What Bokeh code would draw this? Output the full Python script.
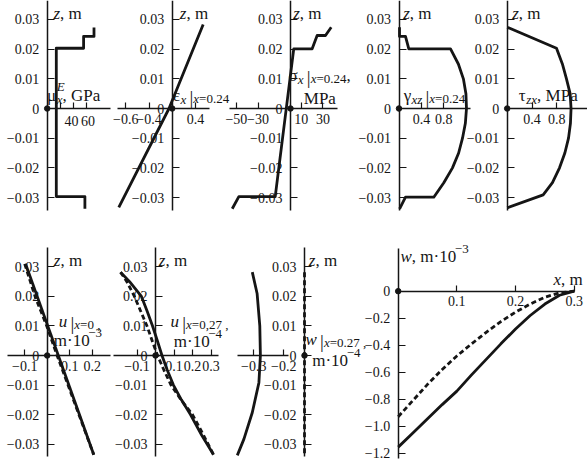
from bokeh.plotting import figure
from bokeh.models import Range1d, LinearAxis, FixedTicker, Label, CustomJSTickFormatter
from bokeh.embed import file_html
from bokeh.resources import INLINE

# ======================= DATA =======================
# through-thickness coordinate ticks (m)
z_ticks = [-0.03, -0.02, -0.01, 0.0, 0.01, 0.02, 0.03]
z_tick_labels = ["−0.03", "−0.02", "−0.01", "0", "0.01", "0.02", "0.03"]

# 1) mu_x^E, GPa
mu_z = [-0.0338, -0.0297, -0.0297, 0.0203, 0.0203, 0.0243, 0.0243, 0.0273]
mu_val = [58, 58, 14, 14, 56, 56, 72, 72]
mu_ticks = [20, 40, 60]
mu_tick_labels = ["", "40\u00a0", "\u00a060"]

# 2) eps_x at x=0.24
eps_z = [-0.0333, 0.0, 0.0283]
eps_val = [-0.921, -0.055, 0.534]
eps_ticks = [-0.8, -0.4, 0.4]
eps_tick_labels = ["−0.6", "−0.4", "0.4"]

# 3) sigma_x at x=0.24, MPa
sig_z = [-0.0338, -0.0297, -0.0297, 0.0201, 0.0201, 0.0246, 0.0246, 0.0274]
sig_val = [-53.8, -47.7, -14.1, 3.0, 20.0, 24.6, 32.3, 37.6]
sig_ticks = [-50, -30, 10, 30]
sig_tick_labels = ["−50", "−30", "10", "30"]

# 4) gamma_xz at x=0.24
gam_z = [-0.0338, -0.0299, -0.0299, -0.025, -0.02, -0.015, -0.01, -0.005, 0.0,
         0.005, 0.01, 0.015, 0.0201, 0.0201, 0.0243, 0.0243, 0.0274]
gam_val = [0.01, 0.116, 0.621, 0.80, 0.955, 1.065, 1.134, 1.185, 1.205,
           1.195, 1.15, 1.06, 0.92, 0.175, 0.116, 0.009, 0.009]
gam_ticks = [0.4, 0.8]
gam_tick_labels = ["0.4", "0.8"]

# 5) tau_zx, MPa
tau_z = [-0.0335, -0.0291, -0.025, -0.02, -0.015, -0.01, -0.005, 0.0,
         0.005, 0.01, 0.015, 0.0203, 0.0274]
tau_val = [0.0, 0.58, 0.73, 0.844, 0.93, 0.989, 1.02, 1.03,
           1.015, 0.956, 0.89, 0.795, 0.0]
tau_ticks = [0.4, 0.8]
tau_tick_labels = ["0.4", "0.8"]

# 6) u at x=0, m*1e-3
u0_z_solid = [0.031, -0.0336]
u0_solid = [-0.096, 0.207]
u0_z_dash = [0.031, 0.02, 0.01, 0.0, -0.0336]
u0_dash = [-0.100, -0.054, -0.002, 0.044, 0.207]
u0_ticks = [-0.1, 0.1, 0.2]
u0_tick_labels = ["−0.1", "0.1", "0.2"]

# 7) u at x=0.27, m*1e-4
u27_z = [0.0282, 0.025, 0.02, 0.015, 0.01, 0.005, 0.0, -0.005, -0.01, -0.015, -0.02, -0.027, -0.0336]
u27_solid = [-0.189, -0.14, -0.076, -0.045, -0.016, 0.010, 0.035, 0.064, 0.097, 0.140, 0.189, 0.250, 0.314]
u27_dash = [-0.189, -0.155, -0.114, -0.080, -0.046, -0.018, 0.011, 0.046, 0.084, 0.138, 0.200, 0.260, 0.314]
u27_ticks = [-0.1, 0.1, 0.2, 0.3]
u27_tick_labels = ["−0.1", "0.1", "0.2", "0.3"]

# 8) w at x=0.27, m*1e-4
w27_z = [0.0282, 0.021, 0.010, 0.0, -0.0092, -0.0193, -0.0283, -0.0338]
w27_solid = [-0.305, -0.289, -0.280, -0.278, -0.283, -0.305, -0.333, -0.355]
w27_dash_z = [0.0282, -0.0338]
w27_dash = [-0.131, -0.131]
w27_ticks = [-0.3, -0.2]
w27_tick_labels = ["−0.3", "−0.2"]

# 9) w(x), m*1e-3
wx_x = [0.0, 0.025, 0.05, 0.075, 0.1, 0.125, 0.15, 0.175, 0.2, 0.225, 0.25, 0.275, 0.3]
wx_solid = [-1.155, -1.05, -0.945, -0.84, -0.74, -0.62, -0.505, -0.39, -0.28, -0.18, -0.095, -0.03, 0.0]
wx_dash = [-0.93, -0.81, -0.69, -0.58, -0.48, -0.39, -0.305, -0.225, -0.155, -0.095, -0.045, -0.012, 0.0]
wx_xticks = [0.1, 0.2, 0.3]
wx_xtick_labels = ["0.1", "0.2", "0.3"]
wx_yticks = [0.0, -0.2, -0.4, -0.6, -0.8, -1.0, -1.2]
wx_ytick_labels = ["0", "−0.2", "−0.4", "−0.6", "−0.8", "−1.0", "−1.2"]

# ======================= LAYOUT =======================
W, H = 587, 461
FONT = "Liberation Serif"
INK = "#151515"

p = figure(width=W, height=H, x_range=Range1d(0, W), y_range=Range1d(H, 0),
           output_backend="svg", toolbar_location=None,
           x_axis_type=None, y_axis_type=None, min_border=0)
p.outline_line_color = None
p.grid.visible = False
p.background_fill_color = "white"
p.border_fill_color = "white"

# panel geometry: origin pixel (ox, oy) and pixels per data unit (sx, sy)
GEOM = {
    "mu":  (46.7, 108.0, 0.65, 2967.0),
    "eps": (171.7, 108.0, 58.0, 2967.0),
    "sig": (290.0, 108.0, 1.083, 2967.0),
    "gam": (398.5, 108.0, 56.0, 2967.0),
    "tau": (506.7, 108.0, 62.0, 2967.0),
    "u0":  (46.7, 355.0, 225.0, 2955.0),
    "u27": (155.0, 355.0, 185.0, 2955.0),
    "w27": (343.3, 355.0, 300.0, 2955.0),
    "wx":  (397.7, 290.7, 586.7, 135.0),
}
for nm, (ox, oy, sx, sy) in GEOM.items():
    p.extra_x_ranges[nm + "x"] = Range1d((0 - ox) / sx, (W - ox) / sx)
    p.extra_y_ranges[nm + "y"] = Range1d((oy - H) / sy, (oy - 0) / sy)


def fmt(ticks, labels):
    return CustomJSTickFormatter(args=dict(vals=list(ticks), labs=list(labels)), code="""
        for (let i = 0; i < vals.length; i++) {
            if (Math.abs(vals[i] - tick) < 1e-9) return labs[i];
        }
        return "";
    """)


AX_STYLE = dict(axis_line_color=INK, axis_line_width=1.5,
                major_tick_line_color=INK, major_tick_line_width=1.2,
                major_tick_out=0, minor_tick_line_color=None,
                major_label_text_font=FONT, major_label_text_font_size="14px",
                major_label_text_color=INK)


def add_axes(nm, xbounds, ybounds, xticks, xlabels, yticks, ylabels, yat=0.0, xat=0.0):
    xa = LinearAxis(x_range_name=nm + "x", y_range_name=nm + "y", fixed_location=xat,
                    bounds=xbounds, ticker=FixedTicker(ticks=xticks, minor_ticks=[]),
                    formatter=fmt(xticks, xlabels), major_tick_in=6,
                    major_label_standoff=5, **AX_STYLE)
    p.add_layout(xa, "below")
    ya = LinearAxis(x_range_name=nm + "x", y_range_name=nm + "y", fixed_location=yat,
                    bounds=ybounds, ticker=FixedTicker(ticks=yticks, minor_ticks=[]),
                    formatter=fmt(yticks, ylabels), major_tick_in=7,
                    major_label_standoff=8, **AX_STYLE)
    p.add_layout(ya, "left")
    p.scatter(x=[yat], y=[xat], size=5.5, color=INK,
              x_range_name=nm + "x", y_range_name=nm + "y")


ZT = (-0.0344, 0.0364)
ZB = (-0.0342, 0.0366)
add_axes("mu", (0, 97.4), ZT, mu_ticks, mu_tick_labels, z_ticks, z_tick_labels)
add_axes("eps", (-0.938, 0.648), ZT, eps_ticks, eps_tick_labels, z_ticks, z_tick_labels)
add_axes("sig", (-56.3, 43.1), ZT, sig_ticks, sig_tick_labels, z_ticks, z_tick_labels)
add_axes("gam", (0, 1.277), ZT, gam_ticks, gam_tick_labels, z_ticks, z_tick_labels)
add_axes("tau", (0, 1.30), ZT, tau_ticks, tau_tick_labels, z_ticks, z_tick_labels)
add_axes("u0", (-0.178, 0.281), ZB, u0_ticks, u0_tick_labels, z_ticks, z_tick_labels)
add_axes("u27", (-0.227, 0.341), ZB, u27_ticks, u27_tick_labels, z_ticks, z_tick_labels)
add_axes("w27", (-0.355, -0.183), ZB, w27_ticks, w27_tick_labels, z_ticks, z_tick_labels,
         yat=-0.131)
add_axes("wx", (0, 0.3), (-1.24, 0.32), wx_xticks, wx_xtick_labels, wx_yticks, wx_ytick_labels)

LW = 2.8
DASH = "5 3"


def curve(nm, xs, ys, dash=None):
    kw = dict(line_width=LW, line_color=INK, line_join="round",
              x_range_name=nm + "x", y_range_name=nm + "y")
    if dash:
        kw["line_dash"] = dash
    p.line(x=xs, y=ys, **kw)


curve("mu", mu_val, mu_z)
curve("eps", eps_val, eps_z)
curve("sig", sig_val, sig_z)
curve("gam", gam_val, gam_z)
curve("tau", tau_val, tau_z)
curve("u0", u0_solid, u0_z_solid)
curve("u0", u0_dash, u0_z_dash, DASH)
curve("u27", u27_solid, u27_z)
curve("u27", u27_dash, u27_z, DASH)
curve("w27", w27_solid, w27_z)
curve("w27", w27_dash, w27_dash_z, DASH)
curve("wx", wx_x, wx_solid)
curve("wx", wx_x, wx_dash, DASH)

# ======================= TEXT =======================
EM = {' ': 0.25, ',': 0.25, '.': 0.25, '=': 0.564, '|': 0.2, '·': 0.25, '−': 0.564,
      'G': 0.722, 'P': 0.556, 'a': 0.444, 'M': 0.889, 'm': 0.778, 'E': 0.611,
      'x': 0.444, 'z': 0.389, 'u': 0.5, 'w': 0.667, 'μ': 0.576, 'ε': 0.44,
      'σ': 0.55, 'γ': 0.45, 'τ': 0.44}


def width(text, size):
    return sum(EM.get(c, 0.5) for c in text) * size


def rich(x, y, parts):
    cx = x
    for part in parts:
        text, size, style, dy = part[:4]
        adv = part[4] if len(part) > 4 else True
        p.add_layout(Label(x=cx, y=y + dy, text=text, text_font=FONT,
                           text_font_size=f"{size}px", text_font_style=style,
                           text_color=INK, text_baseline="alphabetic", text_align="left"))
        if adv:
            cx += width(text, size)


A, S = 17, 13
I, N = "italic", "normal"

for zx in [53.0, 179.3, 292.7, 402.7, 511.7]:
    rich(zx, 12.5, [("z", A, I, 0), (", m", A, N, 0)])
for zx in [53.3, 158.3, 308.3]:
    rich(zx, 259.5, [("z", A, I, 0), (", m", A, N, 0)])

rich(46.5, 95, [("μ", A, N, 0), ("E", S, I, -9, False), ("x", S, I, 4), (", GPa", A, N, 0)])
rich(172.5, 95, [("ε", A, N, 0), ("x", S, I, 4), (" ", S, N, 0), ("|", 19, N, 2),
                 ("x", S, I, 3), ("=0.24", S, N, 3)])
rich(288.0, 75, [("σ", A, N, 0), ("x", S, I, 4), (" ", S, N, 0), ("|", 19, N, 2),
                 ("x", S, I, 3), ("=0.24", S, N, 3), (",", A, N, 0)])
rich(303.3, 98, [("MPa", A, N, 0)])
rich(403.3, 95, [("γ", A, N, 0), ("xz", S, I, 4), (" ", S, N, 0), ("|", 19, N, 2),
                 ("x", S, I, 3), ("=0.24", S, N, 3)])
rich(518.3, 95, [("τ", A, N, 0), ("zx", S, I, 4), (" , MPa", A, N, 0)])

rich(58.3, 321, [("u", A, I, 0), (" ", S, N, 0), ("|", 19, N, 2), ("x", S, I, 3),
                 ("=0 ,", S, N, 3)])
rich(53.3, 340, [("m·10", A, N, 0), ("−3", S, N, -8)])
rich(170.0, 321, [("u", A, I, 0), (" ", S, N, 0), ("|", 19, N, 2), ("x", S, I, 3),
                  ("=0,27 ,", S, N, 3)])
rich(173.3, 341, [("m·10", A, N, 0), ("−4", S, N, -8)])
rich(305.0, 339, [("w", A, I, 0), (" ", S, N, 0), ("|", 19, N, 2), ("x", S, I, 3),
                  ("=0.27 ,", S, N, 3)])
rich(311.7, 360, [("m·10", A, N, 0), ("−4", S, N, -8)])
rich(400.0, 256, [("w", A, I, 0), (", m·10", A, N, 0), ("−3", S, N, -8)])
rich(553.0, 279, [("x", A, I, 0), (", m", A, N, 0)])

open("out.html", "w").write(file_html(p, INLINE))
